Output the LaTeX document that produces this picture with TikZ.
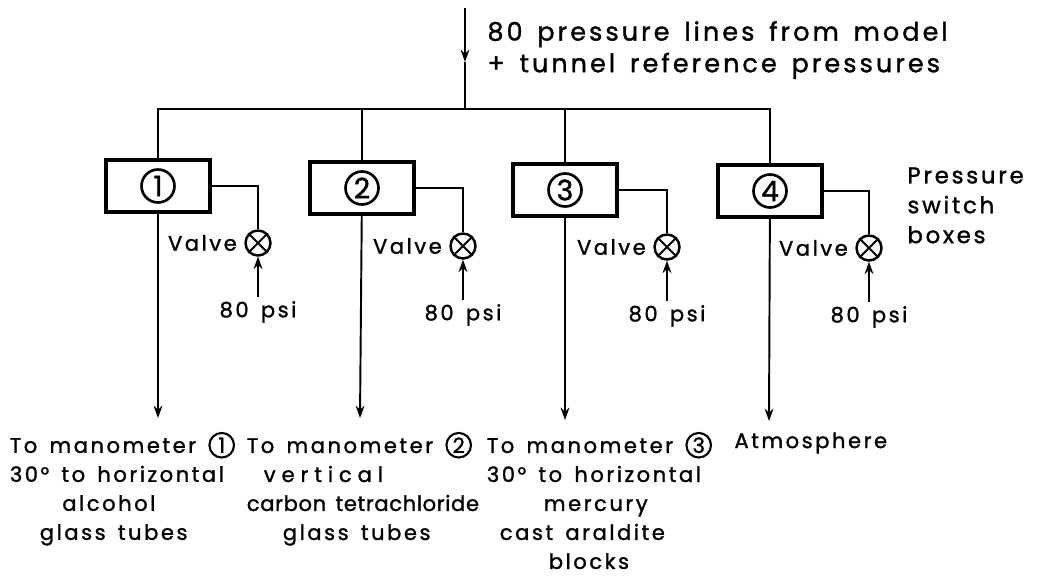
\documentclass[tikz,border=0pt]{standalone}
\usepackage{fontspec}
\setmainfont{Poppins}[LetterSpace=12, WordSpace=1.5, FakeBold=1.3]
\usetikzlibrary{arrows.meta, positioning, calc}

\newcommand{\cnum}[1]{\tikz[baseline=(cn.base)]\node[circle, draw, line width=1.2pt, inner sep=0pt, minimum size=14pt] (cn) {#1};}

\begin{document}
\begin{tikzpicture}[x=0.02cm, y=-0.02cm, line width=1.1pt,
  swbox/.style={rectangle, draw, line width=1.9pt, minimum width=2.08cm, minimum height=1.04cm},
  numcirc/.style={circle, draw, line width=1.5pt, minimum size=0.66cm, inner sep=0pt, font=\fontsize{16}{16}\selectfont},
  valve/.style={circle, draw, line width=1.4pt, minimum size=0.5cm, inner sep=0pt},
  lbl/.style={inner sep=2pt, font=\fontsize{12}{16.5}\selectfont},
  arr/.style={-{Stealth[length=7pt, width=5pt]}, line width=1.1pt}
]
\useasboundingbox (0,0) rectangle (1041,575);

% feed from the model
\coordinate (feed) at (465,8);
\coordinate (feedmid) at (465,62);
\coordinate (bus) at (465,109);
\draw[arr] (feed) -- (feedmid);
\draw (feedmid) -- (bus);
\node[lbl, anchor=west, align=left, font=\fontsize{14.5}{18}\selectfont] (src) at (483,50)
  {80 pressure lines from model\\+ tunnel reference pressures};

% pressure switch boxes
\node[swbox] (box1) at (158,186) {};
\node[swbox] (box2) at (362,188) {};
\node[swbox] (box3) at (565,190) {};
\node[swbox] (box4) at (770,191) {};
\foreach \i in {1,...,4}
  \node[numcirc] (num\i) at (box\i) {\i};
\node[lbl, anchor=north west, align=left, font=\fontsize{13}{17}\selectfont] (swlbl) at (903,163)
  {Pressure\\switch\\boxes};

\draw (box1.north) |- (bus) -| (box4.north);
\draw (box2.north) -- (box2.north |- bus);
\draw (box3.north) -- (box3.north |- bus);

% valves with 80 psi supply
\node[valve] (v1) at (258,243) {};
\node[valve] (v2) at (463,246) {};
\node[valve] (v3) at (667,247) {};
\node[valve] (v4) at (869,248) {};
\foreach \i in {1,...,4} {
  \draw (v\i.north east) -- (v\i.south west) (v\i.north west) -- (v\i.south east);
  \draw (box\i.east) -| (v\i.north);
  \node[lbl, left=0.06cm of v\i] (vlbl\i) {Valve};
  \node[lbl, below=0.8cm of v\i] (psi\i) {80 psi};
  \draw[arr] (psi\i) -- (v\i);
}

% outlets
\coordinate (out1) at (158,418);
\coordinate (out2) at (360,418);
\coordinate (out3) at (565,420);
\coordinate (out4) at (769,421);
\foreach \i in {1,...,4}
  \draw[arr] (box\i) -- (out\i);

\node[lbl, anchor=north west, align=left] (dest1) at (6,428)
  {To manometer \cnum{1}\\30° to horizontal\\\hspace*{1.05cm}alcohol\\\hspace*{0.6cm}glass tubes};
\node[lbl, anchor=north west, align=left] (dest2) at (243,428)
  {To manometer \cnum{2}\\\hspace*{0.34cm}{\addfontfeatures{LetterSpace=28}vertical}\\{\addfontfeatures{LetterSpace=3}carbon tetrachloride}\\\hspace*{0.72cm}glass tubes};
\node[lbl, anchor=north west, align=left] (dest3) at (483,428)
  {To manometer \cnum{3}\\30° to horizontal\\\hspace*{1.14cm}mercury\\\hspace*{0.26cm}cast araldite\\\hspace*{1.24cm}blocks};
\node[lbl, anchor=north west, align=left] (dest4) at (730,428) {Atmosphere};
\end{tikzpicture}
\end{document}
